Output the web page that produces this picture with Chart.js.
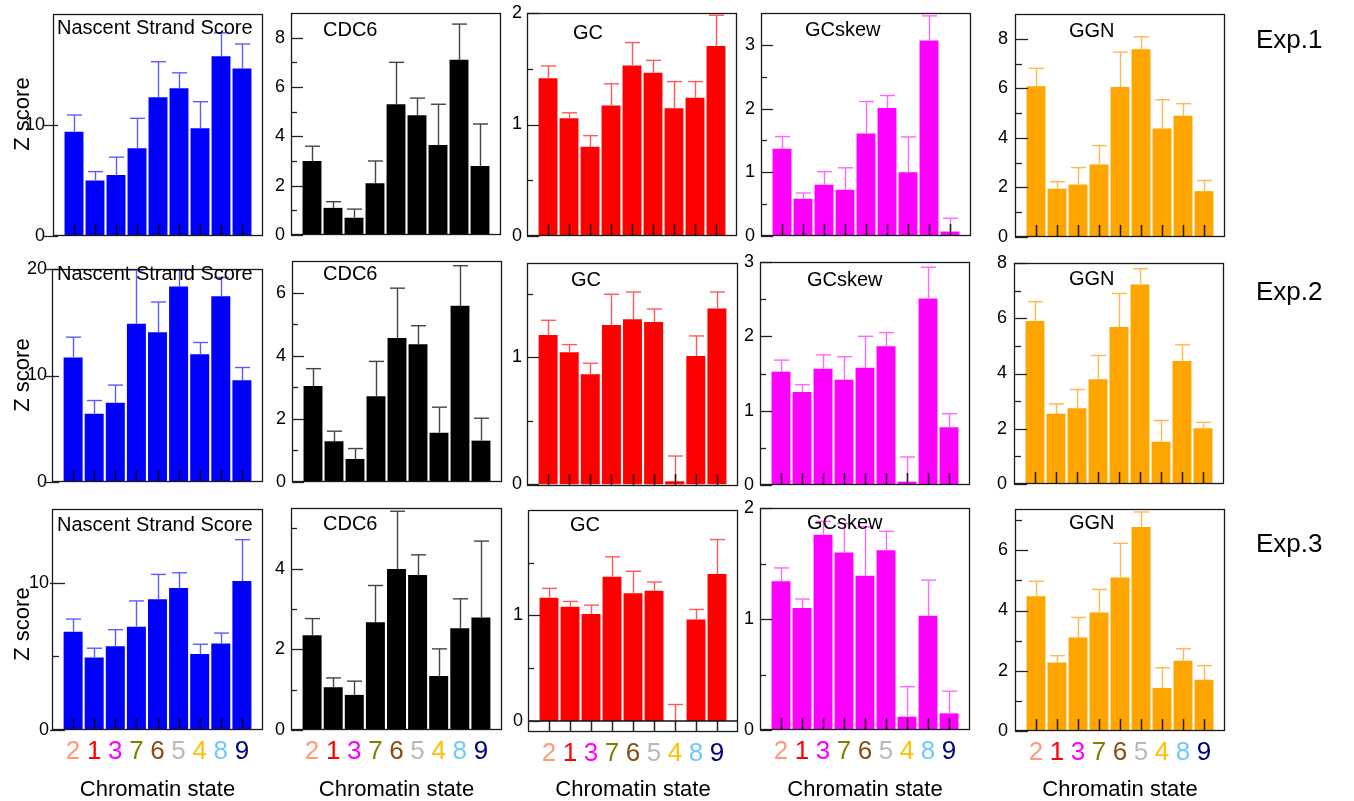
<!DOCTYPE html>
<html><head><meta charset="utf-8">
<script src="https://cdn.jsdelivr.net/npm/chart.js@4/dist/chart.umd.min.js"></script>
<style>
html,body{margin:0;padding:0;background:#fff;}
body{width:1354px;height:801px;position:relative;overflow:hidden;font-family:"Liberation Sans",Arial,sans-serif;color:#000;}
canvas{position:absolute;}
.tt{position:absolute;font-size:20px;line-height:20px;white-space:nowrap;}
.exp{position:absolute;font-size:26px;line-height:26px;white-space:nowrap;}
.xl{position:absolute;font-size:22px;line-height:22px;white-space:nowrap;width:240px;text-align:center;}
.zl{position:absolute;font-size:22px;line-height:24px;white-space:nowrap;width:120px;height:24px;text-align:center;transform:rotate(-90deg);}
</style></head><body>
<script>
const FONT = '"Liberation Sans", Arial, sans-serif';
const states = ['2','1','3','7','6','5','4','8','9'];
const stateColors = ['#ff9a7a','#ff0000','#ff00ff','#7f7f00','#8b4a10','#b8b8b8','#ffc000','#70c8ff','#00007f'];
const metrics = ['Nascent Strand Score','CDC6','GC','GCskew','GGN'];
const exps = ['Exp.1','Exp.2','Exp.3'];
const xTitle = 'Chromatin state';
const yTitle = 'Z score';

// Exp.1
const nss1 = [9.4, 5.0, 5.5, 7.9, 12.5, 13.3, 9.7, 16.2, 15.1];
const nss1Err = [1.5, 0.8, 1.6, 2.7, 3.2, 1.4, 2.4, 2.1, 2.2];
const cdc1 = [3.0, 1.1, 0.7, 2.1, 5.3, 4.85, 3.65, 7.1, 2.8];
const cdc1Err = [0.6, 0.25, 0.35, 0.9, 1.7, 0.7, 1.65, 1.45, 1.7];
const gc1 = [1.415, 1.055, 0.80, 1.17, 1.53, 1.465, 1.145, 1.24, 1.705];
const gc1Err = [0.11, 0.05, 0.10, 0.195, 0.205, 0.11, 0.24, 0.145, 0.275];
const skew1 = [1.37, 0.585, 0.805, 0.725, 1.61, 2.01, 1.0, 3.07, 0.07];
const skew1Err = [0.19, 0.09, 0.205, 0.345, 0.5, 0.195, 0.555, 0.385, 0.21];
const ggn1 = [6.08, 1.95, 2.12, 2.93, 6.05, 7.58, 4.38, 4.89, 1.85];
const ggn1Err = [0.73, 0.28, 0.68, 0.76, 1.41, 0.5, 1.16, 0.49, 0.43];
// Exp.2
const nss2 = [11.7, 6.4, 7.45, 14.85, 14.05, 18.35, 12.0, 17.45, 9.55];
const nss2Err = [1.9, 1.25, 1.65, 5.05, 2.85, 1.55, 1.1, 1.75, 1.2];
const cdc2 = [3.04, 1.29, 0.73, 2.72, 4.56, 4.36, 1.56, 5.58, 1.31];
const cdc2Err = [0.55, 0.32, 0.33, 1.1, 1.58, 0.59, 0.81, 1.27, 0.71];
const gc2 = [1.176, 1.039, 0.866, 1.255, 1.30, 1.278, 0.024, 1.01, 1.383];
const gc2Err = [0.115, 0.061, 0.087, 0.241, 0.214, 0.102, 0.199, 0.158, 0.131];
const skew2 = [1.525, 1.25, 1.565, 1.417, 1.578, 1.865, 0.045, 2.51, 0.776];
const skew2Err = [0.155, 0.10, 0.185, 0.309, 0.422, 0.185, 0.332, 0.42, 0.184];
const ggn2 = [5.9, 2.54, 2.74, 3.79, 5.68, 7.22, 1.53, 4.45, 2.02];
const ggn2Err = [0.7, 0.36, 0.68, 0.86, 1.22, 0.57, 0.77, 0.59, 0.21];
// Exp.3
const nss3 = [6.67, 4.92, 5.69, 7.01, 8.88, 9.64, 5.15, 5.87, 10.11];
const nss3Err = [0.86, 0.63, 1.12, 1.75, 1.68, 1.03, 0.67, 0.71, 2.81];
const cdc3 = [2.35, 1.06, 0.87, 2.67, 3.99, 3.84, 1.34, 2.52, 2.79];
const cdc3Err = [0.41, 0.23, 0.34, 0.91, 1.43, 0.5, 0.67, 0.73, 1.89];
const gc3 = [1.168, 1.083, 1.013, 1.368, 1.21, 1.235, 0, 0.962, 1.394];
const gc3Err = [0.089, 0.05, 0.085, 0.188, 0.209, 0.082, 0.156, 0.095, 0.326];
const skew3 = [1.34, 1.10, 1.76, 1.60, 1.39, 1.62, 0.12, 1.03, 0.15];
const skew3Err = [0.12, 0.08, 0.12, 0.26, 0.44, 0.17, 0.27, 0.32, 0.2];
const ggn3 = [4.47, 2.27, 3.1, 3.93, 5.1, 6.77, 1.43, 2.33, 1.7];
const ggn3Err = [0.5, 0.23, 0.67, 0.77, 1.13, 0.5, 0.67, 0.4, 0.47];

// y tick labels (major) and minor tick values
const nssTicks1 = [0, 10], nssMinor1 = [];
const nssTicks2 = [0, 10, 20], nssMinor2 = [];
const nssTicks3 = [0, 10], nssMinor3 = [5];
const cdcTicks1 = [0, 2, 4, 6, 8], cdcMinor1 = [1, 3, 5, 7];
const cdcTicks2 = [0, 2, 4, 6], cdcMinor2 = [1, 3, 5];
const cdcTicks3 = [0, 2, 4], cdcMinor3 = [1, 3, 5];
const gcTicks1 = [0, 1, 2], gcMinor1 = [0.5, 1.5];
const gcTicks2 = [0, 1], gcMinor2 = [0.5, 1.5];
const gcTicks3 = [0, 1], gcMinor3 = [0.5, 1.5];
const skewTicks1 = [0, 1, 2, 3], skewMinor1 = [0.5, 1.5, 2.5];
const skewTicks2 = [0, 1, 2, 3], skewMinor2 = [0.5, 1.5, 2.5];
const skewTicks3 = [0, 1, 2], skewMinor3 = [0.5, 1.5];
const ggnTicks1 = [0, 2, 4, 6, 8], ggnMinor1 = [1, 3, 5, 7];
const ggnTicks2 = [0, 2, 4, 6, 8], ggnMinor2 = [1, 3, 5, 7];
const ggnTicks3 = [0, 2, 4, 6], ggnMinor3 = [1, 3, 5, 7];

const COL = {
  nss: ['#0000ff', '#5c5cff'],
  cdc: ['#000000', '#444444'],
  gc: ['#ff0000', '#ff5a5a'],
  skew: ['#ff00ff', '#ff66ff'],
  ggn: ['#ffa500', '#ffb84d']
};

// layout (box = left, top, right, bottom of the framed plot area)
const panels = [
  {m:0, r:0, v:nss1, e:nss1Err, col:COL.nss, box:[53,14,263,236], y:[0,20], maj:nssTicks1, min:nssMinor1, tout:9, tin:5, lp:8, tp:[57,27]},
  {m:1, r:0, v:cdc1, e:cdc1Err, col:COL.cdc, box:[291,13,501,235], y:[0,9], maj:cdcTicks1, min:cdcMinor1, tout:0, tin:12, lp:6, tp:[323,29]},
  {m:2, r:0, v:gc1, e:gc1Err, col:COL.gc, box:[527,13,737,236], y:[0,2], maj:gcTicks1, min:gcMinor1, tout:0, tin:12, lp:5, tp:[573,32]},
  {m:3, r:0, v:skew1, e:skew1Err, col:COL.skew, box:[761,13,971,236], y:[0,3.5], maj:skewTicks1, min:skewMinor1, tout:0, tin:12, lp:6, tp:[805,29]},
  {m:4, r:0, v:ggn1, e:ggn1Err, col:COL.ggn, box:[1015,14,1225,237], y:[0,9], maj:ggnTicks1, min:ggnMinor1, tout:0, tin:13, lp:7, tp:[1069,30]},

  {m:0, r:1, v:nss2, e:nss2Err, col:COL.nss, box:[52,269,263,482], y:[0,20], maj:nssTicks2, min:nssMinor2, tout:8, tin:7, lp:5, tp:[57,273]},
  {m:1, r:1, v:cdc2, e:cdc2Err, col:COL.cdc, box:[292,261,502,482], y:[0,7], maj:cdcTicks2, min:cdcMinor2, tout:0, tin:12, lp:6, tp:[323,273]},
  {m:2, r:1, v:gc2, e:gc2Err, col:COL.gc, box:[527,263,738,486], y:[-0.013,1.742], maj:gcTicks2, min:gcMinor2, tout:0, tin:12, lp:5, tp:[571,279]},
  {m:3, r:1, v:skew2, e:skew2Err, col:COL.skew, box:[760,262,970,485], y:[0,3], maj:skewTicks2, min:skewMinor2, tout:0, tin:12, lp:6, tp:[807,279]},
  {m:4, r:1, v:ggn2, e:ggn2Err, col:COL.ggn, box:[1014,263,1224,484], y:[0,8], maj:ggnTicks2, min:ggnMinor2, tout:0, tin:13, lp:7, tp:[1069,278]},

  {m:0, r:2, v:nss3, e:nss3Err, col:COL.nss, box:[52,509,263,730], y:[0,15], maj:nssTicks3, min:nssMinor3, tout:2, tin:13, lp:3, tp:[57,524]},
  {m:1, r:2, v:cdc3, e:cdc3Err, col:COL.cdc, box:[291,508,502,730], y:[0,5.5], maj:cdcTicks3, min:cdcMinor3, tout:0, tin:12, lp:6, tp:[323,523]},
  {m:2, r:2, v:gc3, e:gc3Err, col:COL.gc, box:[528,510,738,732], y:[-0.105,2], maj:gcTicks3, min:gcMinor3, tout:0, tin:12, lp:5, tp:[570,524]},
  {m:3, r:2, v:skew3, e:skew3Err, col:COL.skew, box:[760,508,970,730], y:[0,2], maj:skewTicks3, min:skewMinor3, tout:0, tin:12, lp:6, tp:[807,522]},
  {m:4, r:2, v:ggn3, e:ggn3Err, col:COL.ggn, box:[1015,509,1225,731], y:[0,7.37], maj:ggnTicks3, min:ggnMinor3, tout:0, tin:13, lp:7, tp:[1069,522]}
];
const zCenters = [114, 375, 624];
const expCenters = [39, 291, 543];

function seg(ctx, x1, y1, x2, y2){ ctx.beginPath(); ctx.moveTo(x1,y1); ctx.lineTo(x2,y2); ctx.stroke(); }

const decor = {
  id: 'decor',
  afterDatasetsDraw(chart, args, o) {
    const p = o.p; if (!p) return;
    const ctx = chart.ctx, a = chart.chartArea, xs = chart.scales.x, ys = chart.scales.y;
    ctx.save();
    ctx.lineCap = 'butt';
    ctx.strokeStyle = p.col[1]; ctx.lineWidth = 1.4;
    chart.getDatasetMeta(0).data.forEach((el, i) => {
      const y0 = ys.getPixelForValue(p.v[i]);
      const y1 = ys.getPixelForValue(p.v[i] + p.e[i]);
      const x = Math.round(el.x) + 0.5;
      seg(ctx, x, y0, x, y1);
      seg(ctx, x - 7.5, y1, x + 7.5, y1);
    });
    const z = ys.getPixelForValue(0);
    if (p.y[0] < -0.05) { ctx.strokeStyle = '#111'; ctx.lineWidth = 1.5; seg(ctx, a.left, z, a.right, z); }
    ctx.strokeStyle = 'rgba(0,0,0,0.85)'; ctx.lineWidth = 1.5;
    states.forEach((s, i) => {
      const x = Math.round(xs.getPixelForValue(i)) + 0.5;
      if (p.y[0] < -0.05) seg(ctx, x, z, x, a.bottom);
      else seg(ctx, x, a.bottom, x, a.bottom - 12);
    });
    ctx.strokeStyle = '#222'; ctx.lineWidth = 1.3;
    p.maj.forEach(v => { const y = Math.round(ys.getPixelForValue(v)) + 0.5; seg(ctx, a.left - p.tout, y, a.left + p.tin, y); });
    p.min.forEach(v => { const y = Math.round(ys.getPixelForValue(v)) + 0.5; seg(ctx, a.left, y, a.left + Math.round(p.tin / 2), y); });
    ctx.strokeStyle = '#1a1a1a'; ctx.lineWidth = 1.3;
    ctx.strokeRect(a.left + 0.5, a.top + 0.5, a.right - a.left - 1, a.bottom - a.top - 1);
    ctx.restore();
  }
};

const PL = 50, PR = 24, PT = 34, YW = 44;
panels.forEach(p => {
  const bottomRow = p.r === 2;
  const PB = bottomRow ? 64 : 34;
  const XH = bottomRow ? 48 : 0;
  const [l, t, r, b] = p.box;
  const cv = document.createElement('canvas');
  const W = (r - l) + PL + PR, H = (b - t) + PT + PB;
  cv.width = W; cv.height = H;
  cv.style.left = (l - PL) + 'px'; cv.style.top = (t - PT) + 'px';
  cv.style.width = W + 'px'; cv.style.height = H + 'px';
  document.body.appendChild(cv);
  new Chart(cv, {
    type: 'bar',
    data: { datasets: [{
      data: p.v.map((v, i) => ({ x: i, y: v })),
      backgroundColor: p.col[0], borderWidth: 0,
      barPercentage: 0.9, categoryPercentage: 1.0
    }]},
    options: {
      responsive: false, animation: false, devicePixelRatio: 1,
      layout: { padding: { left: PL - YW, right: PR, top: PT, bottom: PB - XH } },
      plugins: { legend: { display: false }, tooltip: { enabled: false }, decor: { p } },
      scales: {
        x: {
          type: 'linear', min: -1, max: 9, offset: false,
          grid: { display: false, drawTicks: false }, border: { display: false },
          afterBuildTicks: s => { s.ticks = states.map((_, i) => ({ value: i })); },
          afterFit: s => { s.height = XH; },
          ticks: {
            display: bottomRow, autoSkip: false, maxRotation: 0, minRotation: 0, padding: 6,
            font: { family: FONT, size: 26 },
            color: c => stateColors[c.index] || '#000',
            callback: (v) => states[v]
          }
        },
        y: {
          type: 'linear', min: p.y[0], max: p.y[1],
          grid: { display: false, drawTicks: false }, border: { display: false },
          afterBuildTicks: s => { s.ticks = p.maj.map(v => ({ value: v })); },
          afterFit: s => { s.width = YW; },
          ticks: {
            autoSkip: false, padding: p.lp,
            font: { family: FONT, size: 18 }, color: '#000',
            callback: v => String(v)
          }
        }
      }
    },
    plugins: [decor]
  });
  const tt = document.createElement('div');
  tt.className = 'tt'; tt.textContent = metrics[p.m];
  tt.style.left = p.tp[0] + 'px'; tt.style.top = (p.tp[1] - 10) + 'px';
  document.body.appendChild(tt);
  if (bottomRow) {
    const xl = document.createElement('div');
    xl.className = 'xl'; xl.textContent = xTitle;
    xl.style.left = ((l + r) / 2 - 120) + 'px'; xl.style.top = '778px';
    document.body.appendChild(xl);
  }
  if (p.m === 0) {
    const zl = document.createElement('div');
    zl.className = 'zl'; zl.textContent = yTitle;
    zl.style.left = (22 - 60) + 'px'; zl.style.top = (zCenters[p.r] - 12) + 'px';
    document.body.appendChild(zl);
  }
});
expCenters.forEach((cy, i) => {
  const d = document.createElement('div');
  d.className = 'exp'; d.textContent = exps[i];
  d.style.left = '1256px'; d.style.top = (cy - 13) + 'px';
  document.body.appendChild(d);
});
</script>
</body></html>
